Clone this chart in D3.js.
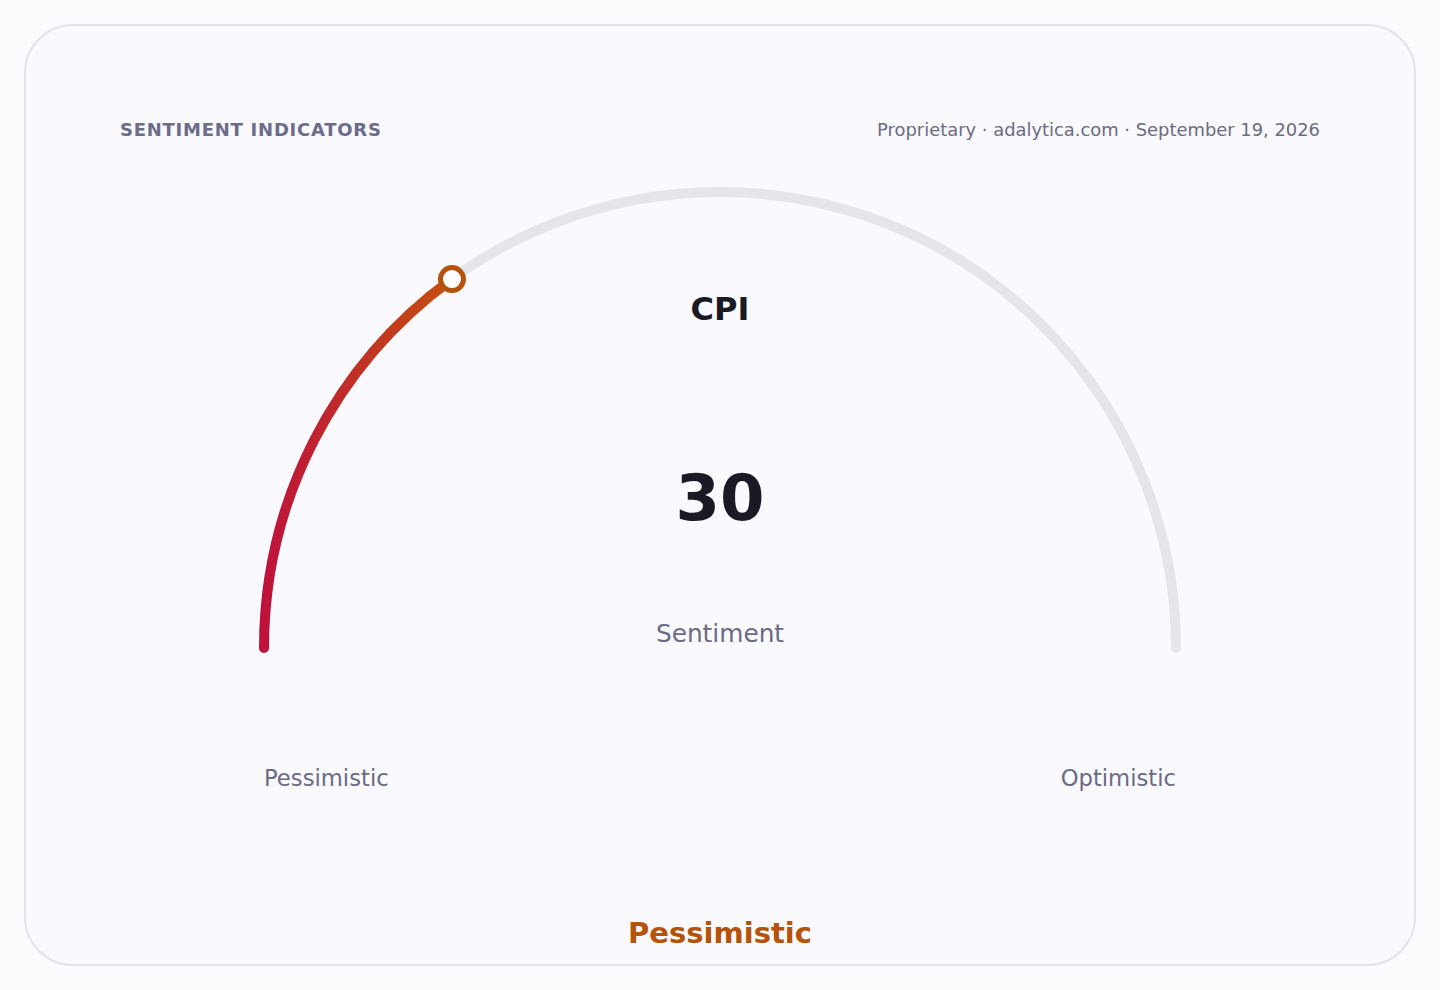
<!DOCTYPE html>
<html>
<head>
<meta charset="utf-8">
<script src="https://cdn.jsdelivr.net/npm/d3@7"></script>
<style>
  html, body { margin: 0; padding: 0; background: #fbfbfd; }
  svg text { font-family: "DejaVu Sans", sans-serif; }
</style>
</head>
<body>
<script>
var indicator = "CPI";
var value = 30;
var domain = [0, 100];
var endLabels = ["Pessimistic", "Optimistic"];
var reading = "Pessimistic";
var unitLabel = "Sentiment";
var title = "SENTIMENT INDICATORS";
var meta = "Proprietary · adalytica.com · September 19, 2026";

var w = 1440;
var h = 990;
var cx = 720, cy = 648, r = 456;

var svg = d3.select("body")
	.append("svg")
	.attr("width", w)
	.attr("height", h);

svg.append("rect")
	.attr("x", 25).attr("y", 25)
	.attr("width", 1390).attr("height", 940)
	.attr("rx", 48)
	.attr("fill", "#f9f9fe")
	.attr("stroke", "#e2e2ee")
	.attr("stroke-width", 2);

svg.append("text")
	.text(title)
	.attr("x", 120).attr("y", 136)
	.attr("font-size", 18).attr("font-weight", "bold")
	.attr("letter-spacing", 0.75)
	.attr("fill", "#6b6b8a");

svg.append("text")
	.text(meta)
	.attr("x", 1320).attr("y", 136)
	.attr("text-anchor", "end")
	.attr("font-size", 17.9)
	.attr("fill", "#6b6b82");

// 0..100 -> left end (PI) .. right end (2PI), svg angle convention
var angle = d3.scaleLinear().domain(domain).range([Math.PI, 2 * Math.PI]);

function arcPath(v0, v1) {
	var p = d3.path();
	p.moveTo(cx + r * Math.cos(angle(v0)), cy + r * Math.sin(angle(v0)));
	p.arc(cx, cy, r, angle(v0), angle(v1), false);
	return p.toString();
}

svg.append("path")
	.attr("d", arcPath(domain[0], domain[1]))
	.attr("fill", "none")
	.attr("stroke", "#e5e5ea")
	.attr("stroke-width", 10)
	.attr("stroke-linecap", "round");

var mx = cx + r * Math.cos(angle(value));
var my = cy + r * Math.sin(angle(value));

var grad = svg.append("defs").append("linearGradient")
	.attr("id", "valgrad")
	.attr("gradientUnits", "userSpaceOnUse")
	.attr("x1", cx - r).attr("y1", 0)
	.attr("x2", mx).attr("y2", 0);
grad.append("stop").attr("offset", "0%").attr("stop-color", "#be123c");
grad.append("stop").attr("offset", "100%").attr("stop-color", "#c4500f");

svg.append("path")
	.attr("d", arcPath(domain[0], value))
	.attr("fill", "none")
	.attr("stroke", "url(#valgrad)")
	.attr("stroke-width", 10)
	.attr("stroke-linecap", "round");

svg.append("circle")
	.attr("cx", mx).attr("cy", my)
	.attr("r", 11.5)
	.attr("fill", "#ffffff")
	.attr("stroke", "#b45309")
	.attr("stroke-width", 5);

svg.append("text")
	.text(indicator)
	.attr("x", cx).attr("y", 320)
	.attr("text-anchor", "middle")
	.attr("font-size", 32).attr("font-weight", "bold")
	.attr("fill", "#1a1a24");

svg.append("text")
	.text(value)
	.attr("x", cx).attr("y", 520)
	.attr("text-anchor", "middle")
	.attr("font-size", 64).attr("font-weight", "bold")
	.attr("fill", "#1a1a24");

svg.append("text")
	.text(unitLabel)
	.attr("x", cx).attr("y", 642)
	.attr("text-anchor", "middle")
	.attr("font-size", 24.8)
	.attr("fill", "#6b6b85");

svg.append("text")
	.text(endLabels[0])
	.attr("x", cx - r).attr("y", 786)
	.attr("font-size", 22.7)
	.attr("fill", "#6b6b85");

svg.append("text")
	.text(endLabels[1])
	.attr("x", cx + r).attr("y", 786)
	.attr("text-anchor", "end")
	.attr("font-size", 22.7)
	.attr("fill", "#6b6b85");

svg.append("text")
	.text(reading)
	.attr("x", cx).attr("y", 943)
	.attr("text-anchor", "middle")
	.attr("font-size", 29).attr("font-weight", "bold")
	.attr("fill", "#b45309");
</script>
</body>
</html>
